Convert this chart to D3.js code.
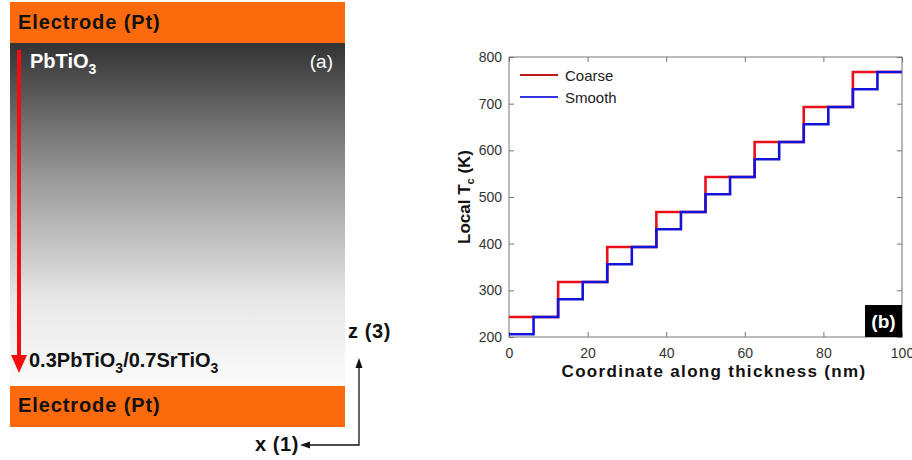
<!DOCTYPE html>
<html>
<head>
<meta charset="utf-8">
<script src="https://cdn.jsdelivr.net/npm/d3@7"></script>
<style>
  body { margin: 0; background: #fff; }
  svg { display: block; font-family: "Liberation Sans", Arial, sans-serif; }
</style>
</head>
<body>
<svg id="fig" width="912" height="460"></svg>
<script>
// panel (b) data: step profiles of local Tc along thickness
const coarseX = [0, 12.5, 25, 37.5, 50, 62.5, 75, 87.5, 100]
const coarseTc = [243, 318, 393, 468, 543, 618, 693, 768, 768]
const smoothX = [0, 6.25, 12.5, 18.75, 25, 31.25, 37.5, 43.75, 50, 56.25, 62.5, 68.75, 75, 81.25, 87.5, 93.75, 100]
const smoothTc = [206, 243, 281, 318, 356, 393, 431, 468, 506, 543, 581, 618, 656, 693, 731, 768, 768]
const xTicks = [0, 20, 40, 60, 80, 100]
const yTicks = [200, 300, 400, 500, 600, 700, 800]
const seriesNames = ['Coarse', 'Smooth']
const seriesColors = ['#e8101a', '#1414d8']

const svg = d3.select('#fig')

// ---------- panel (a) ----------
const defs = svg.append('defs')
const grad = defs.append('linearGradient')
  .attr('id', 'film').attr('x1', 0).attr('y1', 0).attr('x2', 0).attr('y2', 1)
grad.append('stop').attr('offset', 0).attr('stop-color', '#333')
grad.append('stop').attr('offset', 0.4).attr('stop-color', '#9a9a9a')
grad.append('stop').attr('offset', 0.75).attr('stop-color', '#e8e8e8')
grad.append('stop').attr('offset', 1).attr('stop-color', '#fbfbfb')

const left = svg.append('g')
left.append('rect').attr('x', 10).attr('y', 43).attr('width', 335).attr('height', 343).attr('fill', 'url(#film)')
left.append('rect').attr('x', 10).attr('y', 2).attr('width', 335).attr('height', 41).attr('fill', '#fb6a0c')
left.append('rect').attr('x', 10).attr('y', 386).attr('width', 335).attr('height', 41).attr('fill', '#fb6a0c')

left.selectAll('text.elec')
  .data([29, 412])
  .enter()
  .append('text')
  .attr('class', 'elec')
  .attr('x', 18)
  .attr('y', d => d)
  .attr('font-size', 20)
  .attr('font-weight', 'bold')
  .attr('letter-spacing', 0.9)
  .attr('fill', '#111')
  .text('Electrode (Pt)')

// red gradient arrow
left.append('line').attr('x1', 19).attr('x2', 19).attr('y1', 50).attr('y2', 358)
  .attr('stroke', '#f50d0d').attr('stroke-width', 4)
left.append('path').attr('d', 'M11,355 L27,355 L19,373 Z').attr('fill', '#f50d0d')

const topLabel = left.append('text').attr('x', 30).attr('y', 68)
  .attr('font-size', 20).attr('font-weight', 'bold').attr('fill', '#fff')
topLabel.append('tspan').text('PbTiO')
topLabel.append('tspan').attr('font-size', 14).attr('dy', 6).text('3')

left.append('text').attr('x', 333).attr('y', 68).attr('text-anchor', 'end')
  .attr('font-size', 19).attr('fill', '#fff').text('(a)')

const botLabel = left.append('text').attr('x', 29).attr('y', 367)
  .attr('font-size', 20).attr('font-weight', 'bold').attr('fill', '#111')
botLabel.append('tspan').text('0.3PbTiO')
botLabel.append('tspan').attr('font-size', 14).attr('dy', 6).text('3')
botLabel.append('tspan').attr('dy', -6).text('/0.7SrTiO')
botLabel.append('tspan').attr('font-size', 14).attr('dy', 6).text('3')

// coordinate system
left.append('path').attr('d', 'M359,366 L359,445 L307,445')
  .attr('fill', 'none').attr('stroke', '#111').attr('stroke-width', 1.3)
left.append('path').attr('d', 'M359,358 L355.5,368 L362.5,368 Z').attr('fill', '#111')
left.append('path').attr('d', 'M300,445 L310,441.5 L310,448.5 Z').attr('fill', '#111')
left.append('text').attr('x', 348).attr('y', 338).attr('font-size', 20).attr('font-weight', 'bold')
  .attr('letter-spacing', 0.6).attr('fill', '#111').text('z (3)')
left.append('text').attr('x', 299).attr('y', 451).attr('text-anchor', 'end').attr('font-size', 20)
  .attr('font-weight', 'bold').attr('letter-spacing', 0.6).attr('fill', '#111').text('x (1)')

// ---------- panel (b) ----------
const x0 = 509, x1 = 902, y0 = 337, y1 = 57
const x = d3.scaleLinear().domain([0, 100]).range([x0, x1])
const y = d3.scaleLinear().domain([200, 800]).range([y0, y1])
const axisColor = '#777'

const plot = svg.append('g')

function styleAxis(g, labels) {
  g.select('.domain').remove()
  g.selectAll('.tick line').attr('stroke', axisColor)
  if (!labels) {
    g.selectAll('.tick text').remove()
    return
  }
  g.selectAll('.tick text').attr('fill', '#333')
    .attr('font-size', 14).attr('font-family', '"Liberation Sans", Arial, sans-serif')
}

plot.append('g').attr('transform', `translate(0,${y0})`)
  .call(d3.axisBottom(x).tickValues(xTicks).tickSizeInner(-5).tickSizeOuter(0).tickPadding(11))
  .call(g => styleAxis(g, true))
plot.append('g').attr('transform', `translate(0,${y1})`)
  .call(d3.axisTop(x).tickValues(xTicks).tickSizeInner(-5).tickSizeOuter(0))
  .call(g => styleAxis(g, false))
plot.append('g').attr('transform', `translate(${x0},0)`)
  .call(d3.axisLeft(y).tickValues(yTicks).tickSizeInner(-5).tickSizeOuter(0).tickPadding(7))
  .call(g => styleAxis(g, true))
plot.append('g').attr('transform', `translate(${x1},0)`)
  .call(d3.axisRight(y).tickValues(yTicks).tickSizeInner(-5).tickSizeOuter(0))
  .call(g => styleAxis(g, false))

plot.append('rect').attr('x', x0).attr('y', y1).attr('width', x1 - x0).attr('height', y0 - y1)
  .attr('fill', 'none').attr('stroke', axisColor).attr('stroke-width', 1)

const line = d3.line()
  .x(d => x(d[0]))
  .y(d => y(d[1]))
  .curve(d3.curveStepAfter)

const series = [
  d3.zip(coarseX, coarseTc),
  d3.zip(smoothX, smoothTc)
]

plot.selectAll('path.series')
  .data(series)
  .enter()
  .append('path')
  .attr('class', 'series')
  .attr('d', line)
  .attr('fill', 'none')
  .attr('stroke', (d, i) => seriesColors[i])
  .attr('stroke-width', 2.6)

// legend
const legend = plot.append('g').attr('transform', 'translate(520,75)')
legend.selectAll('line')
  .data(seriesNames)
  .enter()
  .append('line')
  .attr('x1', 0).attr('x2', 38)
  .attr('y1', (d, i) => i * 22).attr('y2', (d, i) => i * 22)
  .attr('stroke', (d, i) => i === 0 ? '#c01818' : '#3434e0')
  .attr('stroke-width', 2)
legend.selectAll('text')
  .data(seriesNames)
  .enter()
  .append('text')
  .attr('x', 45)
  .attr('y', (d, i) => i * 22 + 5.5)
  .attr('font-size', 15)
  .attr('fill', '#222')
  .text(d => d)

// (b) tag
plot.append('rect').attr('x', 865).attr('y', 305).attr('width', 37).attr('height', 32).attr('fill', '#000')
plot.append('text').attr('x', 883.5).attr('y', 328).attr('text-anchor', 'middle')
  .attr('font-size', 19).attr('font-weight', 'bold').attr('fill', '#fff').text('(b)')

// axis titles
plot.append('text')
  .attr('x', 714).attr('y', 377)
  .attr('text-anchor', 'middle')
  .attr('font-size', 17).attr('font-weight', 'bold').attr('letter-spacing', 1.3)
  .attr('fill', '#111')
  .text('Coordinate along thickness (nm)')

const yl = plot.append('text')
  .attr('transform', `translate(470,${(y0 + y1) / 2}) rotate(-90)`)
  .attr('text-anchor', 'middle')
  .attr('font-size', 17).attr('font-weight', 'bold')
  .attr('fill', '#111')
yl.append('tspan').text('Local T')
yl.append('tspan').attr('font-size', 11).attr('dy', 4).text('c')
yl.append('tspan').attr('dy', -4).text(' (K)')
</script>
</body>
</html>
